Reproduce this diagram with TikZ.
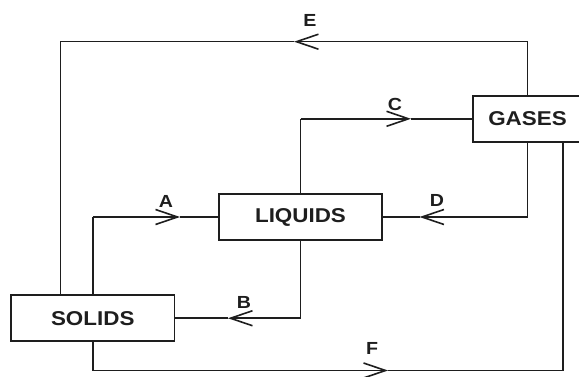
\documentclass[tikz,border=0pt]{standalone}
\usepackage{fontspec}
\setmainfont{Liberation Sans}[FakeStretch=1.12]
\usetikzlibrary{arrows.meta}
\definecolor{ink}{RGB}{30,30,30}
\begin{document}
\begin{tikzpicture}[x=1pt,y=-1pt, line width=1.6pt, draw=ink, text=ink,
  box/.style={draw=ink, line width=1.6pt, minimum height=46pt, inner sep=0pt,
    font=\fontsize{20}{24}\selectfont\bfseries},
  lab/.style={inner sep=0pt, font=\fontsize{17.5}{20}\selectfont\bfseries},
  barb/.style={-{Straight Barb[length=22pt,width=15pt]}}]
\useasboundingbox (0,0) rectangle (579,377);
\node[box, minimum width=163.5pt] (solids) at (92.75,318.25) {SOLIDS};
\node[box, minimum width=163pt] (liquids) at (300.5,217) {LIQUIDS};
\node[box, minimum width=109.6pt] (gases) at (527.5,118.8) {GASES};
% E
\coordinate (e1) at (527.5,41.7);
\coordinate (eT) at (294,41.7);
\coordinate (e2) at (60.5,41.7);
\draw (gases.north) -- (e1);
\draw[barb] (e1) -- (eT);
\draw (eT) -- (e2) -- (e2 |- solids.north);
\node[lab] (lE) at (310,20.5) {E};
% C
\coordinate (c1) at (liquids.north |- gases.west);
\coordinate (cT) at (411,118.8);
\draw (liquids.north) -- (c1);
\draw[barb] (c1) -- (cT);
\draw (cT) -- (gases.west);
\node[lab] (lC) at (395,104) {C};
% A
\coordinate (a1) at (solids.north |- liquids.west);
\coordinate (aT) at (180,217);
\draw (solids.north) -- (a1);
\draw[barb] (a1) -- (aT);
\draw (aT) -- (liquids.west);
\node[lab] (lA) at (166,201) {A};
% D
\coordinate (d1) at (gases.south |- liquids.east);
\coordinate (dT) at (419.5,217);
\draw (gases.south) -- (d1);
\draw[barb] (d1) -- (dT);
\draw (dT) -- (liquids.east);
\node[lab] (lD) at (437,200) {D};
% B
\coordinate (b1) at (liquids.south |- solids.east);
\coordinate (bT) at (228,318.25);
\draw (liquids.south) -- (b1);
\draw[barb] (b1) -- (bT);
\draw (bT) -- (solids.east);
\node[lab] (lB) at (244,302) {B};
% F
\coordinate (f1) at (92.75,370.5);
\coordinate (fT) at (388,370.5);
\coordinate (f2) at (563,370.5);
\draw (solids.south) -- (f1);
\draw[barb] (f1) -- (fT);
\draw (fT) -- (f2) -- (f2 |- gases.south);
\node[lab] (lF) at (372,348) {F};
\end{tikzpicture}
\end{document}
